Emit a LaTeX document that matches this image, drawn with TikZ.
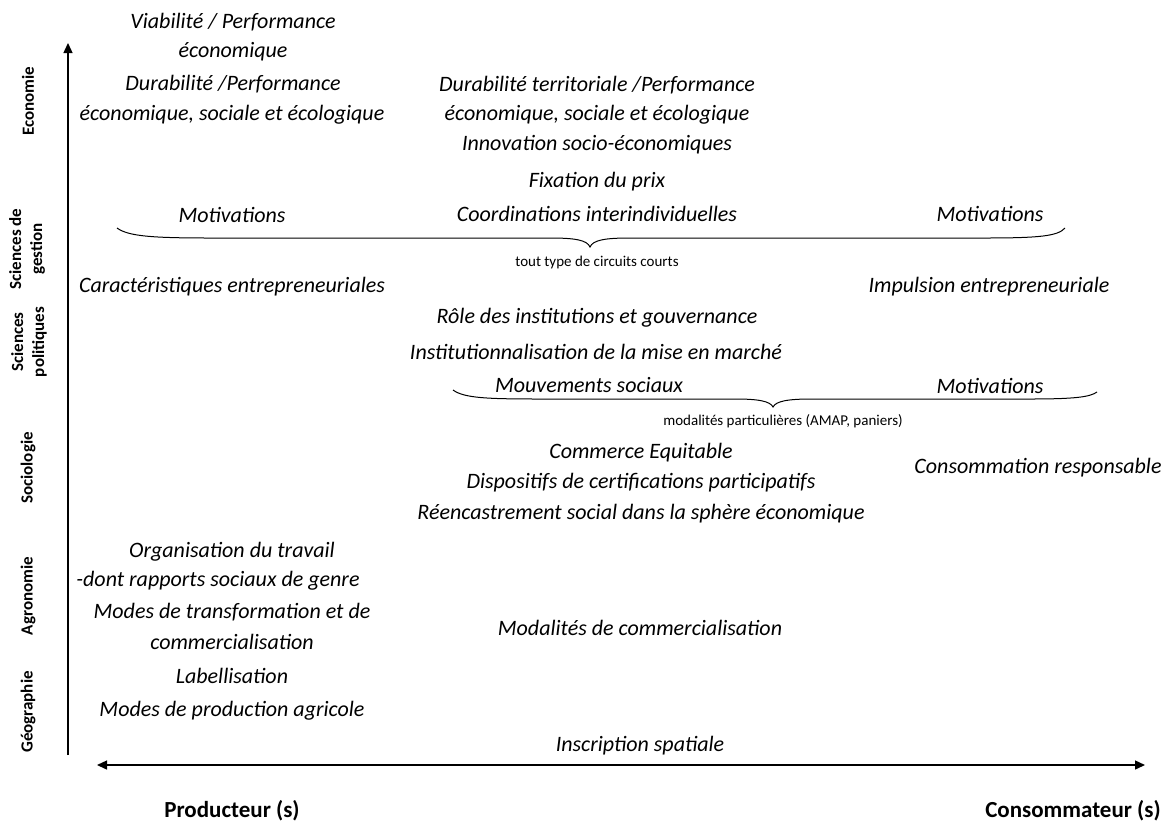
\documentclass[tikz,border=0pt]{standalone}
\usepackage{fontspec}
\setmainfont{Carlito}
\usetikzlibrary{arrows.meta}
\tikzset{
  it/.style={font=\fontsize{22}{26}\selectfont\itshape, inner sep=0pt, anchor=center},
  small/.style={font=\fontsize{15}{18}\selectfont, inner sep=0pt, anchor=center},
  axlab/.style={font=\fontsize{17}{21}\selectfont\bfseries, inner sep=0pt, anchor=center, rotate=90, align=center},
  endlab/.style={font=\fontsize{23}{27}\selectfont\bfseries, inner sep=0pt, anchor=center},
  axis/.style={line width=1.4pt, -{Triangle[length=10pt,width=9pt]}},
  axis2/.style={line width=1.4pt, {Triangle[length=10pt,width=9pt]}-{Triangle[length=10pt,width=9pt]}},
  bracestyle/.style={line width=1pt}
}
\begin{document}
\begin{tikzpicture}[x=1pt,y=-1pt]
\useasboundingbox (0,0) rectangle (1162,823);
% axes
\coordinate (vb) at (68,755);
\coordinate (vt) at (68,43);
\coordinate (hl) at (97,765);
\coordinate (hr) at (1145,765);
\draw[axis] (vb) -- (vt);
\draw[axis2] (hl) -- (hr);
% axis labels
\node[axlab] (eco) at (28,101) {Economie};
\node[axlab] (sg) at (27,249) {Sciences de\\gestion};
\node[axlab] (sp) at (29,342) {Sciences\\politiques};
\node[axlab] (soc) at (28,468) {Sociologie};
\node[axlab] (agr) at (28,596) {Agronomie};
\node[axlab] (geo) at (28,712) {Géographie};
% left column
\node[it] (t1) at (233,22) {Viabilité / Performance};
\node[it] (t2) at (233,52) {économique};
\node[it] (t3) at (233,84) {Durabilité /Performance};
\node[it] (t4) at (232,115) {économique, sociale et écologique};
\node[it] (mot1) at (232,215) {Motivations};
\node[it] (car) at (232,287) {Caractéristiques entrepreneuriales};
\node[it] (org) at (232,552) {Organisation du travail};
\node[it] (dont) at (218,581) {-dont rapports sociaux de genre};
\node[it] (modt) at (232,612) {Modes de transformation et de};
\node[it] (comm) at (232,642) {commercialisation};
\node[it] (lab) at (232,676) {Labellisation};
\node[it] (modp) at (232,711) {Modes de production agricole};
% middle column
\node[it] (dt) at (597,85) {Durabilité territoriale /Performance};
\node[it] (dt2) at (597,115) {économique, sociale et écologique};
\node[it] (inn) at (597,145) {Innovation socio-économiques};
\node[it] (fix) at (597,182) {Fixation du prix};
\node[it] (coo) at (597,214) {Coordinations interindividuelles};
\node[small] (tout) at (597,262) {tout type de circuits courts};
\node[it] (role) at (597,318) {Rôle des institutions et gouvernance};
\node[it] (inst) at (596,352) {Institutionnalisation de la mise en marché};
\node[it] (mouv) at (589,385) {Mouvements sociaux};
\node[small] (moda) at (783,421) {modalités particulières (AMAP, paniers)};
\node[it] (ce) at (641,453) {Commerce Equitable};
\node[it] (disp) at (641,483) {Dispositifs de certifications participatifs};
\node[it] (ree) at (641,514) {Réencastrement social dans la sphère économique};
\node[it] (modc) at (640,628) {Modalités de commercialisation};
\node[it] (insc) at (640,746) {Inscription spatiale};
% right column
\node[it] (mot2) at (990,214) {Motivations};
\node[it] (imp) at (989,287) {Impulsion entrepreneuriale};
\node[it] (mot3) at (990,386) {Motivations};
\node[it] (cons) at (1038,468) {Consommation responsable};
% braces
\coordinate (b1l) at (117,228);
\coordinate (b1t) at (590,247);
\coordinate (b1r) at (1065,228);
\draw[bracestyle] (b1l) .. controls (128,236) and (150,238) .. (210,238)
  -- (550,238) .. controls (575,238) and (587,240) .. (b1t)
  .. controls (593,240) and (605,238) .. (630,238)
  -- (985,238) .. controls (1040,238) and (1058,236) .. (b1r);
\coordinate (b2l) at (453,390);
\coordinate (b2t) at (773,407);
\coordinate (b2r) at (1097,392);
\draw[bracestyle] (b2l) .. controls (464,398) and (486,399) .. (540,399)
  -- (735,399) .. controls (758,399) and (770,401) .. (b2t)
  .. controls (776,401) and (788,399) .. (812,399)
  -- (1030,399) .. controls (1075,399) and (1090,397) .. (b2r);
% bottom labels
\node[endlab] (prod) at (232,811) {Producteur (s)};
\node[endlab] (consm) at (1073,811) {Consommateur (s)};
\end{tikzpicture}
\end{document}
